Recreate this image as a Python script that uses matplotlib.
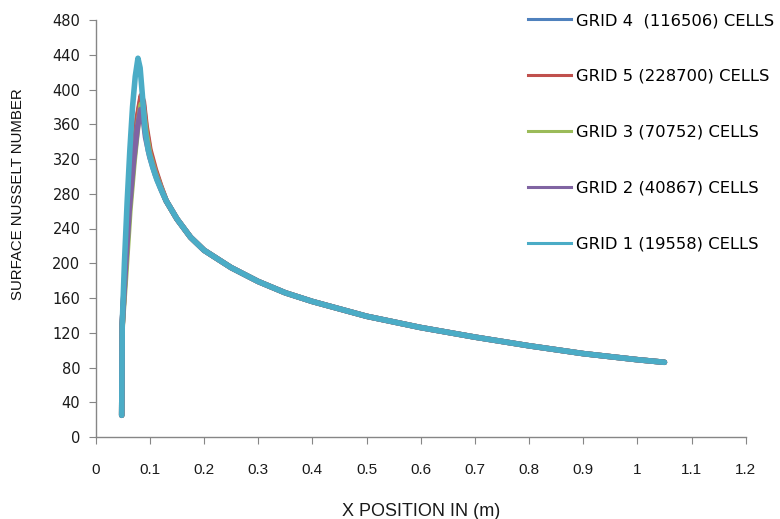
import matplotlib.pyplot as plt
from matplotlib.lines import Line2D

# wall Nusselt number along the plate, one series per mesh
# shared downstream part (all grids collapse onto one curve)
x_tail = [0.13, 0.15, 0.175, 0.2, 0.25, 0.3, 0.35, 0.4, 0.5, 0.6, 0.7, 0.8, 0.9, 1.0, 1.05]
nu_tail = [272, 251, 230, 215, 195, 179, 166, 156, 139, 126, 115, 105, 96, 89, 86]

# leading edge / peak region of each grid
x_g1 = [0.048, 0.049, 0.053, 0.058, 0.063, 0.068, 0.073, 0.078, 0.082, 0.086, 0.091, 0.097, 0.105, 0.113, 0.122]
nu_g1 = [25, 130, 200, 270, 330, 380, 415, 436, 425, 395, 354, 330, 311, 296, 283]
x_g2 = [0.048, 0.049, 0.055, 0.062, 0.07, 0.077, 0.083, 0.087, 0.092, 0.1, 0.11, 0.12]
nu_g2 = [25, 130, 195, 262, 318, 356, 377, 370, 345, 322, 302, 286]
x_g3 = [0.048, 0.049, 0.056, 0.063, 0.071, 0.078, 0.084, 0.088, 0.093, 0.1, 0.11, 0.12]
nu_g3 = [25, 128, 192, 260, 318, 360, 383, 376, 350, 325, 304, 287]
x_g4 = [0.048, 0.049, 0.055, 0.062, 0.07, 0.077, 0.084, 0.088, 0.093, 0.1, 0.11, 0.12]
nu_g4 = [25, 130, 198, 266, 326, 366, 390, 382, 354, 328, 306, 288]
x_g5 = [0.048, 0.049, 0.055, 0.062, 0.07, 0.077, 0.084, 0.088, 0.093, 0.1, 0.11, 0.12]
nu_g5 = [25, 130, 200, 268, 328, 368, 393, 386, 358, 331, 308, 289]

labels = ['GRID 4  (116506) CELLS', 'GRID 5 (228700) CELLS', 'GRID 3 (70752) CELLS',
          'GRID 2 (40867) CELLS', 'GRID 1 (19558) CELLS']
colors = ['#4F81BD', '#C0504D', '#9BBB59', '#8064A2', '#4BACC6']
heads = [(x_g4, nu_g4), (x_g5, nu_g5), (x_g3, nu_g3), (x_g2, nu_g2), (x_g1, nu_g1)]

fig = plt.figure(figsize=(7.8, 5.19), dpi=100)
ax = fig.add_axes([95.7 / 780, 1 - 437 / 519, 650 / 780, 417 / 519])

for (hx, hy), c in zip(heads, colors):
    ax.plot(hx + x_tail, hy + nu_tail, color=c, lw=4.0,
            solid_capstyle='round', solid_joinstyle='round')

ax.set_xlim(0, 1.2)
ax.set_ylim(0, 480)
ax.set_xticks([i / 10 for i in range(13)])
ax.set_xticklabels(['0', '0.1', '0.2', '0.3', '0.4', '0.5', '0.6', '0.7', '0.8',
                    '0.9', '1', '1.1', '1.2'], family='Liberation Sans', fontsize=11)
ax.set_yticks(range(0, 481, 40))
ax.set_yticklabels([str(v) for v in range(0, 481, 40)], family='DejaVu Sans', fontsize=10.5)

for side in ['top', 'right']:
    ax.spines[side].set_visible(False)
for side in ['left', 'bottom']:
    ax.spines[side].set_color('#868686')
    ax.spines[side].set_linewidth(1.0)
ax.tick_params(axis='both', direction='out', length=5, color='#868686', labelcolor='#1a1a1a')
ax.tick_params(axis='x', pad=14)
ax.tick_params(axis='y', pad=6)

fig.text(421 / 780, 1 - 511 / 519, 'X POSITION IN (m)', ha='center', va='center',
         family='Liberation Sans', fontsize=13, color='#1a1a1a')
fig.text(18 / 780, 1 - 194 / 519, 'SURFACE NUSSELT NUMBER', ha='center', va='center',
         rotation=90, family='Liberation Sans', fontsize=10.8, color='#111111')

handles = [Line2D([], [], color=c, lw=2.2) for c in colors]
fig.legend(handles, labels, loc='upper left', bbox_to_anchor=(528 / 780, 1 - 13 / 519),
           frameon=False, borderpad=0, borderaxespad=0, handlelength=2.6,
           handletextpad=0.35, labelspacing=2.5,
           prop={'family': 'DejaVu Sans', 'size': 11.8})

fig.savefig('out.png', dpi=100)
